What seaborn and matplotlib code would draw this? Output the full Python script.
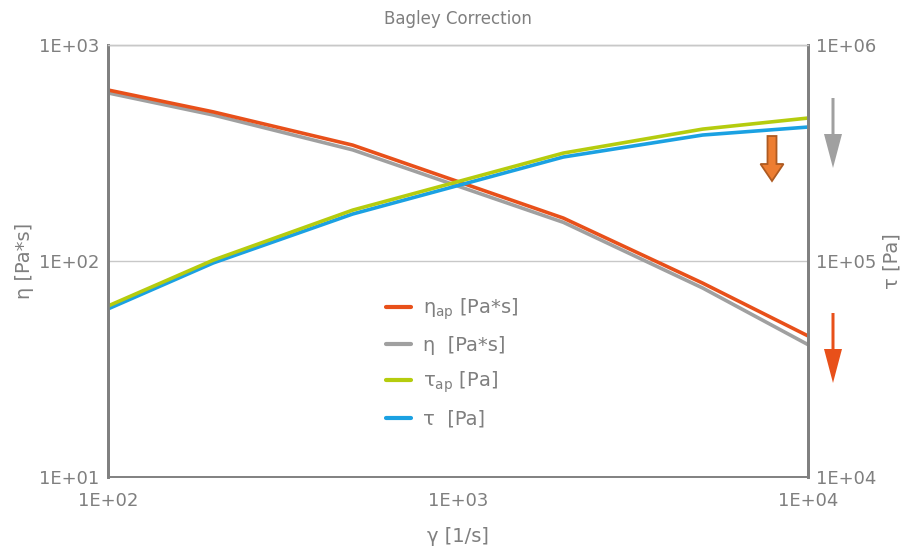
import math
import pandas as pd
import seaborn as sns
import matplotlib
matplotlib.use("Agg")
import matplotlib.pyplot as plt
import matplotlib.ticker as mtick
from matplotlib.lines import Line2D
from matplotlib.patches import FancyArrow
from matplotlib.transforms import IdentityTransform

# shear rate [1/s]
shear_rate = [100, 200, 500, 2000, 5000, 10000]

# viscosity [Pa*s] (left axis)
eta_ap = [619, 490, 344, 158, 79, 45]
eta = [600, 474, 327, 151, 75, 41]

# shear stress [Pa] (right axis)
tau_ap = [61900, 101000, 172000, 316000, 408000, 459000]
tau = [60000, 98000, 165000, 303000, 383000, 417000]

labels = [r"η$_{\mathrm{ap}}$ [Pa*s]", "η  [Pa*s]", r"τ$_{\mathrm{ap}}$ [Pa]", "τ  [Pa]"]
colors = ["#E8501A", "#A0A0A0", "#B5CC0E", "#1BA1E2"]
txt = "#7F7F7F"

df_eta = pd.DataFrame({
    "rate": shear_rate * 2,
    "value": eta_ap + eta,
    "series": [labels[0]] * len(shear_rate) + [labels[1]] * len(shear_rate),
})
df_tau = pd.DataFrame({
    "rate": shear_rate * 2,
    "value": tau_ap + tau,
    "series": [labels[2]] * len(shear_rate) + [labels[3]] * len(shear_rate),
})

sns.set_style("white")
plt.rcParams["font.family"] = ["DejaVu Sans"]

W, H = 909, 552
fig = plt.figure(figsize=(W / 100, H / 100), dpi=100)
ax = fig.add_axes([108 / W, 1 - 477 / H, 700 / W, 432 / H])
ax2 = ax.twinx()

sns.lineplot(data=df_eta, x="rate", y="value", hue="series",
             palette=colors[:2], linewidth=2.6, ax=ax, legend=False)
sns.lineplot(data=df_tau, x="rate", y="value", hue="series",
             palette=colors[2:], linewidth=2.6, ax=ax2, legend=False)

# grey under orange, blue under green
ax.lines[1].set_zorder(1)
ax.lines[0].set_zorder(2)
ax2.lines[1].set_zorder(1)
ax2.lines[0].set_zorder(2)

fmt = mtick.FuncFormatter(lambda v, pos: f"1E+{int(round(math.log10(v))):02d}")

for a, lo, hi in [(ax, 10, 1000), (ax2, 1e4, 1e6)]:
    a.set_xscale("log")
    a.set_yscale("log")
    a.set_xlim(100, 10000)
    a.set_ylim(lo, hi)
    a.yaxis.set_major_locator(mtick.LogLocator(base=10, numticks=5))
    a.yaxis.set_minor_locator(mtick.NullLocator())
    a.yaxis.set_major_formatter(fmt)
    a.tick_params(axis="y", which="both", length=0, labelsize=13,
                  labelcolor=txt, pad=6)

ax.xaxis.set_major_locator(mtick.LogLocator(base=10, numticks=5))
ax.xaxis.set_minor_locator(mtick.NullLocator())
ax.xaxis.set_major_formatter(fmt)
ax.tick_params(axis="x", which="both", length=0, labelsize=13,
               labelcolor=txt, pad=11)

ax.grid(axis="y", color="#C8C8C8", linewidth=1.0)
ax.grid(axis="x", visible=False)
ax2.grid(False)

for a in (ax, ax2):
    a.spines["top"].set_color("#C8C8C8")
    a.spines["top"].set_linewidth(1.0)
    a.spines["bottom"].set_color("#808080")
    a.spines["bottom"].set_linewidth(1.2)
    a.spines["left"].set_color("#808080")
    a.spines["left"].set_linewidth(2.0)
    a.spines["right"].set_color("#808080")
    a.spines["right"].set_linewidth(2.0)

ax.set_xlabel("γ [1/s]", fontsize=14, color=txt, labelpad=12)
ax.set_ylabel("η [Pa*s]", fontsize=14, color=txt, labelpad=4)
ax2.set_ylabel("τ [Pa]", fontsize=14, color=txt, rotation=90, labelpad=4)
ax.set_title("Bagley Correction", fontsize=12, color=txt, pad=15)

handles = [Line2D([0], [0], color=c, linewidth=3) for c in colors]
ax.legend(handles, labels, loc="center left", bbox_to_anchor=(0.372, 0.265),
          frameon=False, fontsize=14, labelcolor=txt, handlelength=1.3,
          handletextpad=0.6, labelspacing=0.75)

# arrows indicating correction direction (figure pixels, y from top)
def arrow(x, y0, y1, width, head_w, head_l, fc, ec=None, lw=0):
    fig.add_artist(FancyArrow(x, H - y0, 0, -(y1 - y0), width=width,
                              head_width=head_w, head_length=head_l,
                              length_includes_head=True, transform=IdentityTransform(),
                              facecolor=fc, edgecolor=ec or fc, linewidth=lw))

arrow(833, 98, 168, 3, 18, 34, "#A0A0A0")
arrow(833, 313, 383, 3, 18, 34, "#E8501A")
arrow(772, 136, 181, 9, 23, 17, "#ED7D31", "#AE5A21", 1.3)

fig.savefig("out.png", dpi=100)
